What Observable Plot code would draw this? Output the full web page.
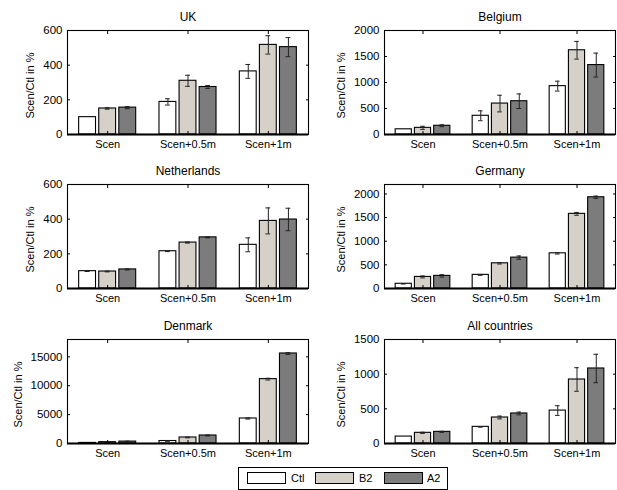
<!DOCTYPE html>
<html><head><meta charset="utf-8">
<script src="https://cdn.jsdelivr.net/npm/d3@7"></script>
<script src="https://cdn.jsdelivr.net/npm/@observablehq/plot@0.6"></script>
<style>
html,body{margin:0;padding:0;background:#fff;}
#root{position:relative;width:617px;height:490px;overflow:hidden;font-family:"Liberation Sans",Arial,sans-serif;}
.panel{position:absolute;}
#legend{position:absolute;left:238px;top:467px;width:210px;height:23px;border:1px solid #000;box-sizing:border-box;font-size:11px;color:#000;}
.sw{position:absolute;top:4px;width:39px;height:12px;border:1px solid #000;box-sizing:border-box;}
.lt{position:absolute;top:4px;line-height:13px;}
</style></head>
<body><div id="root"></div>
<script>
const scenarios = ["Scen", "Scen+0.5m", "Scen+1m"];
const series = ["Ctl", "B2", "A2"];
const seriesColors = ["#ffffff", "#d5d1c9", "#7c7c7c"];
const yLabel = "Scen/Ctl in %";

// values ordered: scenario x series (Ctl, B2, A2)
const ukMean = [100, 150, 155, 188, 310, 274, 364, 517, 504];
const ukErr = [0, 4, 6, 18, 32, 8, 40, 53, 55];
const ukTicks = [0, 200, 400, 600];

const beMean = [100, 128, 168, 360, 595, 640, 930, 1620, 1335];
const beErr = [0, 30, 18, 95, 160, 140, 95, 170, 230];
const beTicks = [0, 500, 1000, 1500, 2000];

const nlMean = [100, 98, 110, 215, 265, 295, 252, 390, 398];
const nlErr = [2, 2, 3, 2, 3, 3, 40, 75, 65];
const nlTicks = [0, 200, 400, 600];

const deMean = [100, 245, 267, 288, 533, 653, 744, 1579, 1930];
const deErr = [5, 20, 25, 10, 15, 35, 15, 30, 25];
const deTicks = [0, 500, 1000, 1500, 2000];

const dkMean = [100, 230, 330, 430, 1040, 1385, 4330, 11140, 15580];
const dkErr = [0, 50, 60, 50, 60, 80, 100, 150, 150];
const dkTicks = [0, 5000, 10000, 15000];

const allMean = [100, 154, 168, 240, 375, 433, 475, 923, 1082];
const allErr = [0, 8, 8, 5, 20, 20, 70, 170, 205];
const allTicks = [0, 500, 1000, 1500];

const panels = [
  {title: "UK", mean: ukMean, err: ukErr, ticks: ukTicks, yMax: 600, col: 0, row: 0, labelDx: -37},
  {title: "Belgium", mean: beMean, err: beErr, ticks: beTicks, yMax: 2000, col: 1, row: 0, labelDx: -43},
  {title: "Netherlands", mean: nlMean, err: nlErr, ticks: nlTicks, yMax: 600, col: 0, row: 1, labelDx: -37},
  {title: "Germany", mean: deMean, err: deErr, ticks: deTicks, yMax: 2200, col: 1, row: 1, labelDx: -43},
  {title: "Denmark", mean: dkMean, err: dkErr, ticks: dkTicks, yMax: 18000, col: 0, row: 2, labelDx: -49},
  {title: "All countries", mean: allMean, err: allErr, ticks: allTicks, yMax: 1500, col: 1, row: 2, labelDx: -43}
];

const colLayout = [
  {left: 0, width: 310, marginLeft: 67},
  {left: 310, width: 307, marginLeft: 74}
];
const rowTops = [0, 154, 309];
const root = document.getElementById("root");
const fmt = d3.format("d");
const barHalf = 0.105, capHalf = 0.03, step = 0.25;

for (const p of panels) {
  const c = colLayout[p.col];
  const rows = [];
  scenarios.forEach((s, i) => series.forEach((k, j) => {
    rows.push({scen: s, series: k, x: i + 1 + (j - 1) * step, v: p.mean[i * 3 + j], e: p.err[i * 3 + j]});
  }));
  const errRows = rows.filter(d => d.e > 0);
  const chart = Plot.plot({
    width: c.width, height: 155,
    marginLeft: c.marginLeft, marginRight: 2, marginTop: 30, marginBottom: 21,
    x: {domain: [0.5, 3.5], axis: null},
    y: {domain: [0, p.yMax], axis: null},
    color: {domain: series, range: seriesColors},
    style: {fontFamily: "'Liberation Sans', Arial, sans-serif", fontSize: "11px", background: "transparent", color: "#000", overflow: "visible"},
    marks: [
      Plot.rectY(rows, {x1: d => d.x - barHalf, x2: d => d.x + barHalf, y: "v", fill: "series", stroke: "#000", strokeWidth: 1.1}),
      Plot.ruleX(errRows, {x: "x", y1: d => d.v - d.e, y2: d => d.v + d.e, stroke: "#222", strokeWidth: 1}),
      Plot.ruleY(errRows, {y: d => d.v + d.e, x1: d => d.x - capHalf, x2: d => d.x + capHalf, stroke: "#222", strokeWidth: 1}),
      Plot.ruleY(errRows, {y: d => d.v - d.e, x1: d => d.x - capHalf, x2: d => d.x + capHalf, stroke: "#222", strokeWidth: 1}),
      Plot.axisY(p.ticks, {anchor: "left", tickSize: -3, tickPadding: 8, tickFormat: fmt, label: null, fontSize: 11.5}),
      Plot.axisY(p.ticks, {anchor: "right", tickSize: -3, tickFormat: () => "", label: null}),
      Plot.axisX([1, 2, 3], {anchor: "bottom", tickSize: -3, tickPadding: 9, tickFormat: d => scenarios[d - 1], label: null, fontSize: 11}),
      Plot.axisX([1, 2, 3], {anchor: "top", tickSize: -3, tickFormat: () => "", label: null}),
      Plot.frame({stroke: "#000", strokeWidth: 1.1}),
      Plot.ruleY([0], {stroke: "#000", strokeWidth: 2}),
      Plot.text([p.title], {frameAnchor: "top", lineAnchor: "middle", dy: -13, fontSize: 12, fill: "#000"}),
      Plot.text([yLabel], {frameAnchor: "left", textAnchor: "middle", lineAnchor: "middle", dx: p.labelDx, dy: 3, rotate: -90, fontSize: 11, fill: "#000"})
    ]
  });
  chart.classList.add("panel");
  chart.style.left = c.left + "px";
  chart.style.top = rowTops[p.row] + "px";
  chart.style.position = "absolute";
  root.appendChild(chart);
}

// legend
const legend = document.createElement("div");
legend.id = "legend";
const swLeft = [8, 76, 145];
const txLeft = [52, 120, 188];
series.forEach((s, i) => {
  const sw = document.createElement("div");
  sw.className = "sw";
  sw.style.left = swLeft[i] + "px";
  sw.style.background = seriesColors[i];
  legend.appendChild(sw);
  const t = document.createElement("div");
  t.className = "lt";
  t.style.left = txLeft[i] + "px";
  t.textContent = s;
  legend.appendChild(t);
});
root.appendChild(legend);
</script>
</body></html>
